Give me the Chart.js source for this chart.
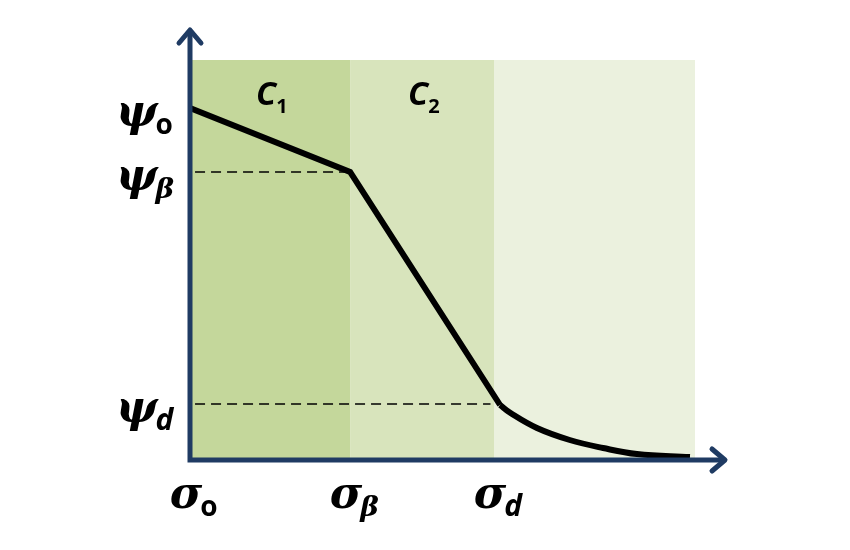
<!DOCTYPE html>
<html>
<head>
<meta charset="utf-8">
<script src="https://cdn.jsdelivr.net/npm/chart.js@4.4.0/dist/chart.umd.min.js"></script>
<style>
  body { margin: 0; background: #fff; }
</style>
</head>
<body>
<canvas id="chart" width="850" height="550"></canvas>
<script>
// Stress axis (sigma) and potential axis (psi), arbitrary units 0..10
const sigmaTicks = [0, 3.17, 6.02];
const sigmaSubs = ["o", "β", "d"];
const psiTicks = [8.8, 7.2, 1.4];
const psiSubs = ["o", "β", "d"];

// shaded zones
const zoneStart = [0, 3.17, 6.02];
const zoneEnd = [3.17, 6.02, 10];
const zoneLabels = ["C", "C", ""];
const zoneSubs = ["1", "2", ""];

// piecewise curve
const lineX = [0, 3.17, 6.14];
const lineY = [8.8, 7.2, 1.375];
const tailX = [6.14, 6.34, 6.87, 7.52, 8.18, 8.85, 9.9];
const tailY = [1.375, 1.18, 0.8, 0.5, 0.3, 0.15, 0.075];

// dashed guides
const guideBetaX = [0.1, 3.1];
const guideDX = [0.1, 5.95];

const zoneColors = ["#c4d79b", "#d8e4bc", "#ebf1de"];
const axisColor = "#1f3b63";

function pts(xs, ys) {
  return xs.map((x, i) => ({ x: x, y: Array.isArray(ys) ? ys[i] : ys }));
}

// zones behind everything
const zonePlugin = {
  id: "zones",
  beforeDatasetsDraw(chart) {
    const { ctx, scales: { x, y } } = chart;
    ctx.save();
    zoneStart.forEach((s, i) => {
      const x0 = x.getPixelForValue(s);
      const x1 = x.getPixelForValue(zoneEnd[i]);
      const yTop = y.getPixelForValue(10);
      const yBot = y.getPixelForValue(0);
      ctx.fillStyle = zoneColors[i];
      ctx.fillRect(x0, yTop, x1 - x0, yBot - yTop);
      if (zoneLabels[i]) {
        const cx = (x0 + x1) / 2;
        ctx.fillStyle = "#000";
        ctx.textBaseline = "alphabetic";
        ctx.font = "italic bold 33px 'Open Sans'";
        const w = ctx.measureText(zoneLabels[i]).width;
        ctx.textAlign = "left";
        ctx.fillText(zoneLabels[i], cx - w / 2 - 4, yTop + 45);
        ctx.font = "bold 20px 'Open Sans'";
        ctx.fillText(zoneSubs[i], cx + w / 2 - 4, yTop + 53);
      }
    });
    ctx.restore();
  }
};

function drawSymbol(ctx, main, sub, x, y, align) {
  ctx.textBaseline = "alphabetic";
  ctx.textAlign = "left";
  ctx.font = "italic bold 44px 'DejaVu Serif'";
  const w1 = ctx.measureText(main).width;
  const subFont = sub === "o" ? "bold 28px 'Open Sans'" : (sub === "β" ? "italic bold 28px 'DejaVu Serif'" : "italic bold 30px 'Open Sans'");
  let left = align === "center" ? x - w1 / 2 : x;
  ctx.fillText(main, left, y);
  ctx.font = subFont;
  ctx.fillText(sub, left + w1 - 2, y + 8);
}

// axes with arrows and symbolic labels
const axisPlugin = {
  id: "axes",
  afterDatasetsDraw(chart) {
    const { ctx, scales: { x, y } } = chart;
    const ox = x.getPixelForValue(0);
    const oy = y.getPixelForValue(0);
    ctx.save();
    ctx.strokeStyle = axisColor;
    ctx.lineWidth = 5;
    ctx.lineCap = "butt";
    ctx.beginPath();
    ctx.moveTo(ox, oy + 2.5);
    ctx.lineTo(ox, 30);
    ctx.moveTo(ox - 2.5, oy);
    ctx.lineTo(724, oy);
    ctx.stroke();
    ctx.lineCap = "round";
    ctx.lineJoin = "round";
    ctx.beginPath();
    ctx.moveTo(ox - 11, 43);
    ctx.lineTo(ox, 30);
    ctx.lineTo(ox + 11, 43);
    ctx.moveTo(712, oy - 11);
    ctx.lineTo(725, oy);
    ctx.lineTo(712, oy + 11);
    ctx.stroke();

    ctx.fillStyle = "#000";
    psiTicks.forEach((v, i) => {
      drawSymbol(ctx, "ψ", psiSubs[i], 116, y.getPixelForValue(v) + 18, "left");
    });
    sigmaTicks.forEach((v, i) => {
      drawSymbol(ctx, "σ", sigmaSubs[i], x.getPixelForValue(v) - 4, 508, "center");
    });
    ctx.restore();
  }
};

new Chart(document.getElementById("chart"), {
  type: "line",
  data: {
    datasets: [
      { data: pts(guideBetaX, psiTicks[1]), borderColor: "#000", borderWidth: 1.7, borderDash: [10, 6], pointRadius: 0 },
      { data: pts(guideDX, psiTicks[2]), borderColor: "#000", borderWidth: 1.7, borderDash: [10, 6], pointRadius: 0 },
      { data: pts(lineX, lineY), borderColor: "#000", borderWidth: 6, pointRadius: 0, tension: 0 },
      { data: pts(tailX, tailY), borderColor: "#000", borderWidth: 6, pointRadius: 0, tension: 0.4 }
    ]
  },
  options: {
    responsive: false,
    animation: false,
    layout: { padding: { left: 190, right: 155, top: 60, bottom: 90 } },
    plugins: { legend: { display: false }, tooltip: { enabled: false } },
    scales: {
      x: { type: "linear", min: 0, max: 10, display: false },
      y: { type: "linear", min: 0, max: 10, display: false }
    }
  },
  plugins: [zonePlugin, axisPlugin]
});
</script>
</body>
</html>
